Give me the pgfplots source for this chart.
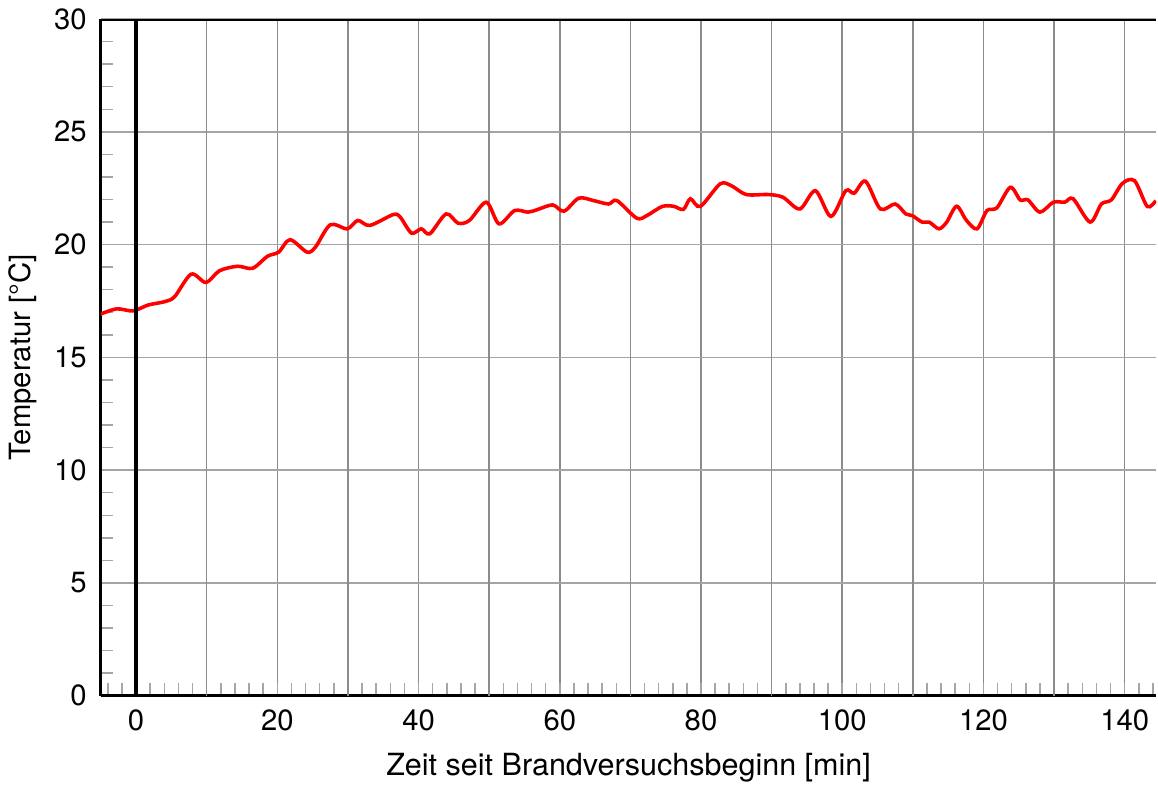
\documentclass[border=0pt]{standalone}
\usepackage{pgfplots}
\pgfplotsset{compat=1.18}
\usepackage{fontspec}
\setmainfont{TeX Gyre Heros}
\definecolor{gridgray}{RGB}{140,140,140}
\definecolor{hgridgray}{RGB}{165,165,165}
\begin{document}
\begin{tikzpicture}
\begin{axis}[
  scale only axis,
  width=415pt, height=266pt,
  xmin=-5, xmax=144.5, ymin=0, ymax=30,
  axis lines*=left,
  x axis line style={-, line width=1.2pt},
  y axis line style={-, line width=1.2pt},
  xtick={0,20,...,140},
  extra x ticks={10,30,...,130},
  extra x tick labels={},
  extra x tick style={grid=major, major tick length=0pt},
  ytick={0,5,...,30},
  minor xtick={-4,-2,...,144},
  minor ytick={1,2,3,4,6,7,8,9,11,12,13,14,16,17,18,19,21,22,23,24,26,27,28,29},
  major tick length=0pt,
  minor tick length=5pt,
  tick align=inside,
  every minor tick/.style={gray!70, line width=0.6pt},
  xmajorgrids, ymajorgrids,
  x grid style={gridgray, line width=0.6pt},
  y grid style={hgridgray, line width=0.6pt},
  /pgf/number format/assume math mode=true,
  tick label style={font=\fontsize{11.5}{13}\selectfont},
  xticklabel style={yshift=-2pt},
  yticklabel style={xshift=-2pt},
  xlabel style={font=\fontsize{12}{14}\selectfont, yshift=-2pt},
  ylabel style={font=\fontsize{11.5}{14}\selectfont},
  xlabel={Zeit seit Brandversuchsbeginn [min]},
  ylabel={Temperatur [°C]},
  clip=true,
]
\addplot[red, line width=1.4pt, smooth, tension=0.5] coordinates {
(-5.35,16.88) (-2.77,17.15) (-0.42,17.06) (1.69,17.32) (4.04,17.47) (5.45,17.69)
(7.8,18.69) (9.9,18.32) (11.8,18.84) (14.37,19.04) (16.5,18.95) (18.6,19.48)
(20.2,19.67) (21.8,20.22) (24.2,19.67) (25.4,19.89) (27.5,20.88) (29.9,20.70)
(31.4,21.07) (33.1,20.85) (36.4,21.33) (37.4,21.22) (39.0,20.51) (40.4,20.70)
(41.6,20.48) (43.9,21.36) (45.6,20.95) (47.2,21.07) (49.6,21.88) (51.4,20.92)
(53.6,21.51) (55.5,21.44) (56.9,21.56) (59.0,21.76) (60.6,21.48) (62.7,22.06)
(64.8,21.95) (66.9,21.80) (68.1,21.95) (70.9,21.17) (72.35,21.29) (74.5,21.69)
(76.1,21.70) (77.5,21.56) (78.5,22.03) (79.9,21.69) (82.7,22.69) (84.3,22.61)
(86.4,22.22) (89.5,22.22) (91.6,22.10) (94.0,21.58) (96.2,22.39) (98.4,21.25)
(100.5,22.39) (101.7,22.28) (103.3,22.81) (105.4,21.58) (107.5,21.80) (109.0,21.36)
(109.9,21.29) (111.3,21.00) (112.3,21.00) (113.7,20.70) (114.8,21.00) (116.2,21.70)
(117.6,21.07) (119.1,20.70) (120.5,21.51) (121.9,21.63) (123.8,22.54) (125.2,21.98)
(126.3,21.98) (128.0,21.44) (129.9,21.88) (131.5,21.88) (132.7,22.03) (135.1,21.00)
(136.7,21.80) (138.1,21.98) (139.7,22.72) (141.4,22.83) (143.2,21.69) (144.4,21.95)
};
\draw[black, line width=1.4pt] (axis cs:0,0) -- (axis cs:0,30);
\draw[black, line width=1.2pt] (rel axis cs:0,1) -- (rel axis cs:1,1);
\end{axis}
\end{tikzpicture}
\end{document}
